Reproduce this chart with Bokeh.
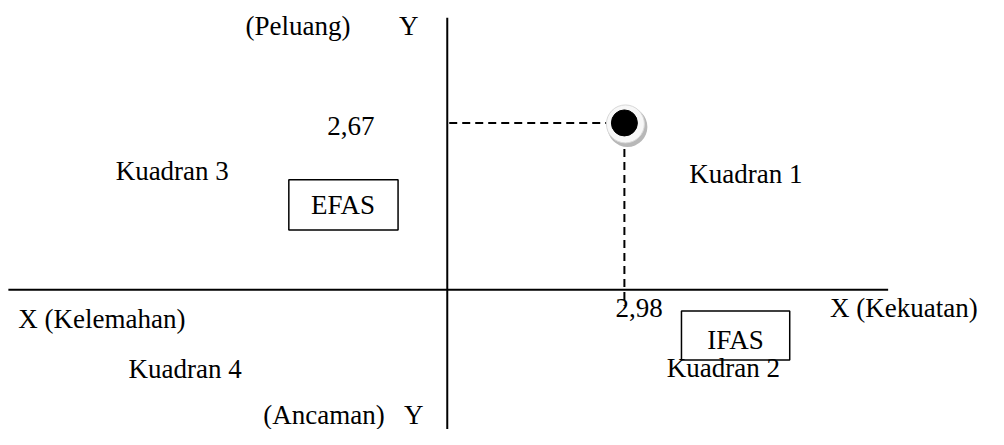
from bokeh.plotting import figure
from bokeh.models import Range1d, Label
from bokeh.embed import file_html
from bokeh.resources import INLINE

# ---- data ----
factors = ["IFAS", "EFAS"]
ifas_score = 2.98   # X: Kekuatan
efas_score = 2.67   # Y: Peluang
quadrant_names = ["Kuadran 1", "Kuadran 2", "Kuadran 3", "Kuadran 4"]
axis_names = ["X (Kekuatan)", "X (Kelemahan)", "(Peluang)", "(Ancaman)", "Y"]

W, H = 988, 429
SX, SY = W / 1004, H / 445          # reference-page px -> figure px
OX, OY = 454 * SX, 300 * SY         # origin in figure px (from left / from top)
KX = (634 - 454) * SX / ifas_score  # px per unit horizontally
KY = (300 - 127) * SY / efas_score  # px per unit vertically

def rx(ref_x):  # reference px -> data x
    return (ref_x * SX - OX) / KX

def ry(ref_y):  # reference px -> data y
    return (OY - ref_y * SY) / KY

p = figure(width=W, height=H, output_backend="svg", toolbar_location=None,
           x_range=Range1d(-OX / KX, (W - OX) / KX),
           y_range=Range1d(-(H - OY) / KY, OY / KY),
           x_axis_location=None, y_axis_location=None,
           min_border=0, outline_line_color=None)
p.grid.visible = False
p.background_fill_color = "white"

# axes
p.segment(x0=[rx(8)], y0=[0], x1=[rx(902)], y1=[0], line_color="black", line_width=2)
p.segment(x0=[0], y0=[ry(18)], x1=[0], y1=[ry(470)], line_color="black", line_width=2)

# dashed guides
p.segment(x0=[rx(456)], y0=[efas_score], x1=[ifas_score], y1=[efas_score],
          line_color="black", line_width=2, line_dash="8 5")
p.segment(x0=[ifas_score], y0=[efas_score], x1=[ifas_score], y1=[-16 / KY],
          line_color="black", line_width=2, line_dash="8 5")

# point with shadow
p.scatter(x=[ifas_score + 3 / KX], y=[efas_score - 4 / KY], size=40, marker="circle",
          fill_color="#b8b8b8", line_color=None)
p.scatter(x=[ifas_score + 1 / KX], y=[efas_score - 1 / KY], size=38, marker="circle",
          fill_color="#f7f7f7", line_color="#d8d8d8", line_width=1)
p.scatter(x=[ifas_score], y=[efas_score], size=26, marker="circle",
          fill_color="black", line_color="black")

# boxes
p.quad(left=[rx(293)], right=[rx(404)], top=[ry(186)], bottom=[ry(238)],
       fill_color="white", line_color="black", line_width=1.5)
p.quad(left=[rx(692)], right=[rx(802)], top=[ry(322)], bottom=[ry(373)],
       fill_color=None, line_color="black", line_width=1.5)

FONT = "Liberation Serif"
FS = "27px"

def lab(txt, x, y, align="left"):
    p.add_layout(Label(x=x, y=y, text=txt, text_font=FONT, text_font_size=FS,
                       text_color="black", text_align=align, text_baseline="middle"))

fmt = lambda v: f"{v:.2f}".replace(".", ",")

lab(axis_names[2], rx(249), ry(26))
lab(axis_names[4], rx(405), ry(26))
lab(fmt(efas_score), rx(332), efas_score - 3 / KY)
lab(quadrant_names[2], rx(117), ry(177))
lab(factors[1], rx(348), ry(212), "center")
lab(quadrant_names[0], rx(700), ry(180))
lab(axis_names[1], rx(18), ry(330))
lab(fmt(ifas_score), ifas_score - 9 / KX, ry(319))
lab(factors[0], rx(747), ry(352), "center")
lab(axis_names[0], rx(843), ry(319))
lab(quadrant_names[3], rx(130), ry(382))
lab(quadrant_names[1], rx(677), ry(381))
lab(axis_names[3], rx(267), ry(430))
lab(axis_names[4], rx(410), ry(430))

open("out.html", "w").write(file_html(p, INLINE))
